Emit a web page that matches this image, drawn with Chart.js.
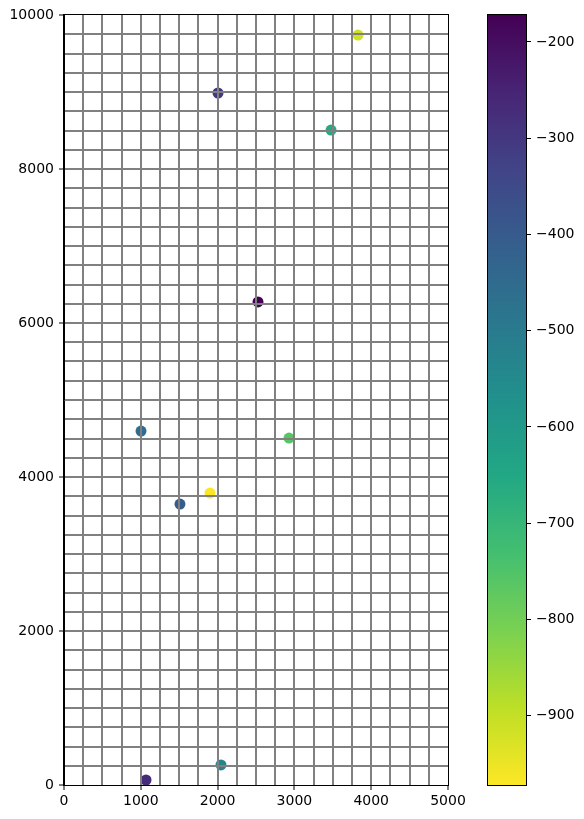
<!DOCTYPE html>
<html>
<head>
<meta charset="utf-8">
<script src="https://cdn.jsdelivr.net/npm/chart.js@4"></script>
<style>
  body { margin: 0; background: #fff; }
  #wrap { position: relative; width: 584px; height: 819px; }
  #mainChart { position: absolute; left: 0; top: 0; }
  #barChart { position: absolute; left: 448px; top: 0; }
</style>
</head>
<body>
<div id="wrap">
  <canvas id="mainChart" width="584" height="819"></canvas>
  <canvas id="barChart" width="136" height="819"></canvas>
</div>
<script>
// scatter data
const xValues = [3828, 2005, 3477, 2526, 1003, 2930, 1901, 1510, 1068, 2044];
const yValues = [9740, 8987, 8506, 6273, 4597, 4506, 3792, 3649, 65, 260];
const cValues = [-915, -305, -655, -172, -455, -760, -972, -400, -270, -535];

const xTicks = [0, 1000, 2000, 3000, 4000, 5000];
const yTicks = [0, 2000, 4000, 6000, 8000, 10000];
const cTicks = [-200, -300, -400, -500, -600, -700, -800, -900];

const cMin = -972;
const cMax = -172;

// viridis stops
const viridis = ['#440154', '#482475', '#414487', '#355f8d', '#2a788e',
  '#21918c', '#22a884', '#44bf70', '#7ad151', '#bddf26', '#fde725'];

function hexToRgb(h) {
  return [parseInt(h.substr(1, 2), 16), parseInt(h.substr(3, 2), 16), parseInt(h.substr(5, 2), 16)];
}

function viridisAt(t) {
  t = Math.max(0, Math.min(1, t));
  const pos = t * (viridis.length - 1);
  const i = Math.min(Math.floor(pos), viridis.length - 2);
  const f = pos - i;
  const a = hexToRgb(viridis[i]), b = hexToRgb(viridis[i + 1]);
  const c = a.map((v, k) => Math.round(v + (b[k] - v) * f));
  return `rgb(${c[0]},${c[1]},${c[2]})`;
}

// reversed: low values yellow, high values purple
function colorFor(v) {
  return viridisAt(1 - (v - cMin) / (cMax - cMin));
}

const points = xValues.map((x, i) => ({ x: x, y: yValues[i] }));
const pointColors = cValues.map(colorFor);

const font = { family: 'DejaVu Sans', size: 14 };

const frame = {
  id: 'frame',
  afterDraw(chart) {
    const a = chart.chartArea;
    const c = chart.ctx;
    c.save();
    c.strokeStyle = '#000';
    c.lineWidth = 1;
    c.strokeRect(Math.round(a.left) - 0.5, Math.round(a.top) - 0.5,
      Math.round(a.right - a.left) + 1, Math.round(a.bottom - a.top) + 1);
    c.restore();
  }
};

function gridColor(max) {
  return ctx => (ctx.tick && ctx.tick.value > 0 && ctx.tick.value < max) ? '#808080' : 'rgba(0,0,0,0)';
}

function tickMarkColor(list) {
  return ctx => (ctx.tick && list.includes(ctx.tick.value)) ? '#000' : 'rgba(0,0,0,0)';
}

new Chart(document.getElementById('mainChart'), {
  type: 'scatter',
  data: {
    datasets: [{
      data: points,
      backgroundColor: pointColors,
      borderColor: pointColors,
      pointRadius: 5.5,
      pointHoverRadius: 5.5,
      borderWidth: 0
    }]
  },
  options: {
    responsive: false,
    animation: false,
    events: [],
    layout: { padding: { left: 0, top: 15, right: 136, bottom: 0 } },
    plugins: { legend: { display: false }, tooltip: { enabled: false } },
    scales: {
      x: {
        type: 'linear',
        min: 0,
        max: 5000,
        afterFit: s => { s.height = 34; },
        ticks: {
          stepSize: 250,
          autoSkip: false,
          maxRotation: 0,
          padding: 3,
          color: '#000',
          font: font,
          callback: v => xTicks.includes(v) ? String(v) : ''
        },
        grid: {
          z: 1,   // grid sits over the points, as in the original
          color: gridColor(5000),
          lineWidth: 2,
          tickColor: tickMarkColor(xTicks),
          tickWidth: 1,
          tickLength: 5
        },
        border: { display: true, color: '#000', width: 1, z: 1 }
      },
      y: {
        type: 'linear',
        min: 0,
        max: 10000,
        afterFit: s => { s.width = 64; },
        ticks: {
          stepSize: 250,
          autoSkip: false,
          padding: 5,
          color: '#000',
          font: font,
          callback: v => yTicks.includes(v) ? String(v) : ''
        },
        grid: {
          z: 1,
          color: gridColor(10000),
          lineWidth: 2,
          tickColor: tickMarkColor(yTicks),
          tickWidth: 1,
          tickLength: 5
        },
        border: { display: true, color: '#000', width: 1, z: 1 }
      }
    }
  },
  plugins: [frame]
});

// colorbar
function barGradient(ctx) {
  const area = ctx.chart.chartArea;
  if (!area) return viridis[5];
  const g = ctx.chart.ctx.createLinearGradient(0, area.bottom, 0, area.top);
  viridis.forEach((col, i) => g.addColorStop(i / (viridis.length - 1), viridis[viridis.length - 1 - i]));
  return g;
}

new Chart(document.getElementById('barChart'), {
  type: 'bar',
  data: {
    labels: [''],
    datasets: [{
      data: [[cMin, cMax]],
      backgroundColor: barGradient,
      borderWidth: 0,
      barPercentage: 1,
      categoryPercentage: 1
    }]
  },
  options: {
    responsive: false,
    animation: false,
    events: [],
    layout: { padding: { left: 40, top: 15, right: 0, bottom: 34 } },
    plugins: { legend: { display: false }, tooltip: { enabled: false } },
    scales: {
      x: { display: false },
      y: {
        position: 'right',
        min: cMin,
        max: cMax,
        afterFit: s => { s.width = 58; },
        afterBuildTicks: s => { s.ticks = cTicks.map(v => ({ value: v })); },
        ticks: {
          padding: 5,
          color: '#000',
          font: font,
          callback: v => '\u2212' + Math.abs(v)
        },
        grid: {
          drawOnChartArea: false,
          tickColor: '#000',
          tickWidth: 1,
          tickLength: 5
        },
        border: { display: false }
      }
    }
  },
  plugins: [frame]
});
</script>
</body>
</html>
